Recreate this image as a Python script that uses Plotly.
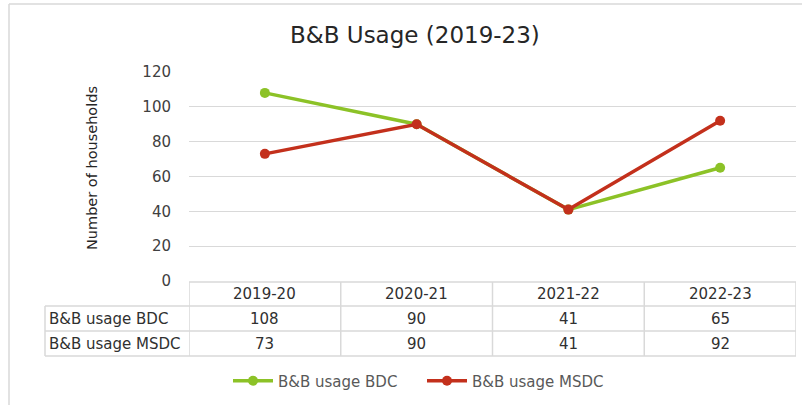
import plotly.graph_objects as go

categories = ["2019-20", "2020-21", "2021-22", "2022-23"]
bdc_values = [108, 90, 41, 65]
msdc_values = [73, 90, 41, 92]
series_names = ["B&B usage BDC", "B&B usage MSDC"]
y_ticks = [0, 20, 40, 60, 80, 100, 120]

W, H = 802, 405
def px(x):
    return x / W
def py(y):
    return 1 - y / H

GREEN = "#8CC227"
RED = "#C3301C"
GRID = "#d9d9d9"
FONT = "DejaVu Sans, sans-serif"

fig = go.Figure()
for name, vals, col in [(series_names[0], bdc_values, GREEN), (series_names[1], msdc_values, RED)]:
    fig.add_trace(go.Scatter(
        x=list(range(len(categories))), y=vals, name=name, mode="lines+markers",
        line=dict(color=col, width=3.5), marker=dict(color=col, size=10),
    ))

shapes = []
anns = []
t_top, r1, r2, r3 = 282, 306, 331, 356
left_x = 45
shapes.append(dict(type="line", xref="x", yref="paper", x0=-0.5, x1=len(categories) - 0.5, y0=py(t_top), y1=py(t_top), line=dict(color=GRID, width=1.5)))
for yy in [r1, r2, r3]:
    shapes.append(dict(type="line", xref="paper", yref="paper", x0=px(left_x), x1=px(796), y0=py(yy), y1=py(yy), line=dict(color=GRID, width=1.5)))
shapes.append(dict(type="line", xref="paper", yref="paper", x0=px(left_x), x1=px(left_x), y0=py(r1), y1=py(r3), line=dict(color=GRID, width=1.5)))
for i in range(len(categories) + 1):
    shapes.append(dict(type="line", xref="x", yref="paper", x0=i - 0.5, x1=i - 0.5, y0=py(t_top), y1=py(r3), line=dict(color=GRID, width=1.5)))
shapes.append(dict(type="line", xref="paper", yref="paper", x0=px(9), x1=px(9), y0=py(4), y1=py(410), line=dict(color=GRID, width=1.5)))
shapes.append(dict(type="line", xref="paper", yref="paper", x0=px(9), x1=px(810), y0=py(4), y1=py(4), line=dict(color=GRID, width=1.5)))

tfont = dict(family=FONT, size=15, color="#303030")
def ann(**kw):
    d = dict(showarrow=False, xanchor="center", yanchor="middle")
    d.update(kw)
    anns.append(d)

for i, c in enumerate(categories):
    ann(x=i, y=py((t_top + r1) / 2), xref="x", yref="paper", text=c, font=tfont)
    ann(x=i, y=py((r1 + r2) / 2), xref="x", yref="paper", text=str(bdc_values[i]), font=tfont)
    ann(x=i, y=py((r2 + r3) / 2), xref="x", yref="paper", text=str(msdc_values[i]), font=tfont)
for name, yy in [(series_names[0], (r1 + r2) / 2), (series_names[1], (r2 + r3) / 2)]:
    ann(x=px(47), y=py(yy), xref="paper", yref="paper", text=name, xanchor="left", font=tfont)

ann(x=px(92), y=py(168), xref="paper", yref="paper", text="Number of households", textangle=-90,
    font=dict(family=FONT, size=14.5, color="#262626"))
ann(x=px(415), y=py(35), xref="paper", yref="paper", text="B&B Usage (2019-23)",
    font=dict(family=FONT, size=23, color="#262626"))

fig.update_layout(
    width=W, height=H, margin=dict(l=0, r=0, t=0, b=0, autoexpand=False),
    paper_bgcolor="white", plot_bgcolor="white",
    font=dict(family=FONT, color="#595959"),
    xaxis=dict(domain=[px(189), px(796)], range=[-0.5, len(categories) - 0.5], showticklabels=False,
               showgrid=False, zeroline=False, showline=False, ticks="", fixedrange=True),
    yaxis=dict(domain=[py(281), py(72)], range=[0, 120], tickvals=y_ticks, showgrid=True, gridcolor=GRID, gridwidth=1.2,
               zeroline=False, showline=False, ticks="", ticklabelstandoff=17, fixedrange=True,
               tickfont=dict(family=FONT, size=15, color="#404040")),
    showlegend=True,
    legend=dict(orientation="h", x=px(228), xanchor="left", y=py(381), yanchor="middle",
                entrywidth=139, entrywidthmode="pixels",
                font=dict(family=FONT, size=15, color="#595959"), itemwidth=40, bgcolor="rgba(0,0,0,0)"),
    shapes=shapes, annotations=anns,
)
fig.write_html("out.html", config={"displayModeBar": False},
               post_script="document.body.style.margin='0';document.body.style.overflow='hidden';")
